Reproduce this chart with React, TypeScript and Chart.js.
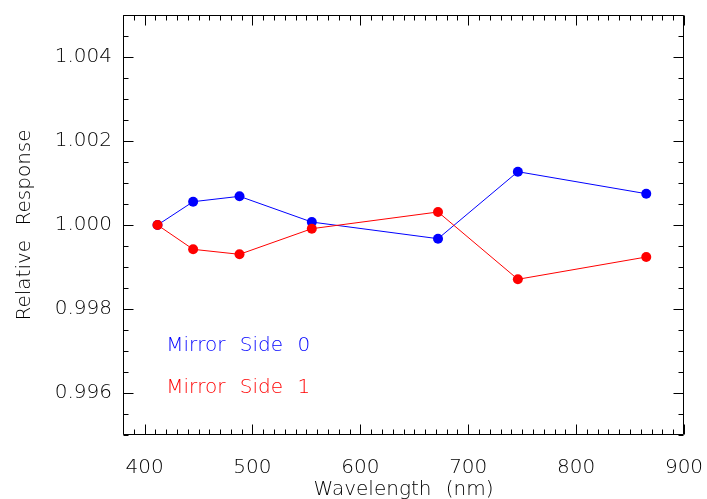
import React, { useEffect, useRef } from 'react';
import { Chart, registerables } from 'chart.js';

Chart.register(...registerables);

// ---- data ----
const WAVELENGTHS = [412, 445, 488, 555, 672, 746, 865];
const MIRROR_SIDE_0 = [1.0, 1.000555, 1.000683, 1.00007, 0.999674, 1.001269, 1.000745];
const MIRROR_SIDE_1 = [1.0, 0.999421, 0.999302, 0.999912, 1.00031, 0.998707, 0.999238];

const X_MIN = 380;
const X_MAX = 900;
const Y_MIN = 0.995;
const Y_MAX = 1.005;
const X_TICKS = [400, 500, 600, 700, 800, 900];
const Y_TICKS = [0.996, 0.998, 1.0, 1.002, 1.004];
const X_MINOR_STEP = 10;
const Y_MINOR_STEP = 0.0005;

const LEGEND_LABELS = ['Mirror Side 0', 'Mirror Side 1'];
const LEGEND_COLORS = ['#0000ff', '#ff0000'];
const LEGEND_X = 420;
const LEGEND_Y = [0.997, 0.996];

const FONT_FAMILY = '"DejaVu Sans", "Liberation Sans", sans-serif';
const FONT = { family: FONT_FAMILY, size: 20, weight: '200' as any };

const zeroPadding = (s: any) => {
  s.paddingLeft = 0;
  s.paddingRight = 0;
  s.paddingTop = 0;
  s.paddingBottom = 0;
};

const framePlugin = {
  id: 'idlFrame',
  beforeDraw(chart: any) {
    const ctx = chart.ctx as any;
    ctx.wordSpacing = '8px';
  },
  afterDraw(chart: any) {
    const ctx = chart.ctx as any;
    const xs = chart.scales.x;
    const ys = chart.scales.y;
    const { left, right, top, bottom } = chart.chartArea;
    const L = Math.round(left) + 0.5;
    const R = Math.round(right) - 0.5;
    const T = Math.round(top) + 0.5;
    const B = Math.round(bottom) - 0.5;
    ctx.save();
    ctx.strokeStyle = '#000';
    ctx.lineWidth = 1;
    ctx.beginPath();
    ctx.rect(L, T, R - L, B - T);
    ctx.stroke();

    ctx.beginPath();
    // x ticks (bottom & top, inward)
    const nx = Math.round((X_MAX - X_MIN) / X_MINOR_STEP);
    for (let i = 0; i <= nx; i++) {
      const v = X_MIN + i * X_MINOR_STEP;
      const major = X_TICKS.some((t) => Math.abs(t - v) < 1e-6);
      const len = major ? 10 : 5;
      const px = Math.round(xs.getPixelForValue(v)) + 0.5;
      ctx.moveTo(px, B);
      ctx.lineTo(px, B - len);
      ctx.moveTo(px, T);
      ctx.lineTo(px, T + len);
    }
    // y ticks (left & right, inward)
    const ny = Math.round((Y_MAX - Y_MIN) / Y_MINOR_STEP);
    for (let i = 0; i <= ny; i++) {
      const v = Y_MIN + i * Y_MINOR_STEP;
      const major = Y_TICKS.some((t) => Math.abs(t - v) < 1e-9);
      const len = major ? 10 : 5;
      const py = Math.round(ys.getPixelForValue(v)) + 0.5;
      ctx.moveTo(L, py);
      ctx.lineTo(L + len, py);
      ctx.moveTo(R, py);
      ctx.lineTo(R - len, py);
    }
    ctx.stroke();

    // legend text
    ctx.font = `200 20px ${FONT_FAMILY}`;
    ctx.textAlign = 'left';
    ctx.textBaseline = 'alphabetic';
    ctx.wordSpacing = '8px';
    LEGEND_LABELS.forEach((label, i) => {
      ctx.fillStyle = LEGEND_COLORS[i];
      ctx.fillText(label, xs.getPixelForValue(LEGEND_X), ys.getPixelForValue(LEGEND_Y[i]));
    });
    ctx.restore();
  },
};

export default function App() {
  const canvasRef = useRef<HTMLCanvasElement | null>(null);

  useEffect(() => {
    document.body.style.margin = '0';
    const canvas = canvasRef.current;
    if (!canvas) return;
    const chart = new Chart(canvas, {
      type: 'line',
      data: {
        datasets: [
          {
            label: LEGEND_LABELS[0],
            data: WAVELENGTHS.map((x, i) => ({ x, y: MIRROR_SIDE_0[i] })),
            borderColor: '#0000ff',
            backgroundColor: '#0000ff',
            borderWidth: 1,
            pointRadius: 5,
            pointBorderWidth: 0,
            pointBackgroundColor: '#0000ff',
            tension: 0,
            order: 1,
          },
          {
            label: LEGEND_LABELS[1],
            data: WAVELENGTHS.map((x, i) => ({ x, y: MIRROR_SIDE_1[i] })),
            borderColor: '#ff0000',
            backgroundColor: '#ff0000',
            borderWidth: 1,
            pointRadius: 5,
            pointBorderWidth: 0,
            pointBackgroundColor: '#ff0000',
            tension: 0,
            order: 0,
          },
        ],
      },
      options: {
        animation: false,
        responsive: false,
        devicePixelRatio: 1,
        layout: { padding: { top: 15, right: 23, left: 0, bottom: 0 } },
        plugins: {
          legend: { display: false },
          tooltip: { enabled: false },
        },
        scales: {
          x: {
            type: 'linear',
            min: X_MIN,
            max: X_MAX,
            afterFit: (s: any) => {
              s.height = 64;
              zeroPadding(s);
            },
            afterBuildTicks: (s: any) => {
              s.ticks = X_TICKS.map((v) => ({ value: v }));
            },
            grid: { display: false, drawTicks: false },
            border: { display: false },
            ticks: {
              padding: 21,
              color: '#000',
              font: FONT,
              maxRotation: 0,
              autoSkip: false,
              callback: (v: any) => String(v),
            },
            title: {
              display: true,
              text: 'Wavelength (nm)',
              color: '#000',
              font: FONT,
              padding: { top: 0, bottom: -3 },
            },
          },
          y: {
            type: 'linear',
            min: Y_MIN,
            max: Y_MAX,
            afterFit: (s: any) => {
              s.width = 123;
              zeroPadding(s);
            },
            afterBuildTicks: (s: any) => {
              s.ticks = Y_TICKS.map((v) => ({ value: v }));
            },
            grid: { display: false, drawTicks: false },
            border: { display: false },
            ticks: {
              padding: 11,
              color: '#000',
              font: FONT,
              autoSkip: false,
              callback: (v: any) => Number(v).toFixed(3),
            },
            title: {
              display: true,
              text: 'Relative Response',
              color: '#000',
              font: FONT,
              padding: { top: 13, bottom: 0 },
            },
          },
        },
      },
      plugins: [framePlugin],
    } as any);
    return () => chart.destroy();
  }, []);

  return (
    <canvas
      ref={canvasRef}
      width={707}
      height={499}
      style={{ display: 'block', width: 707, height: 499 }}
    />
  );
}
